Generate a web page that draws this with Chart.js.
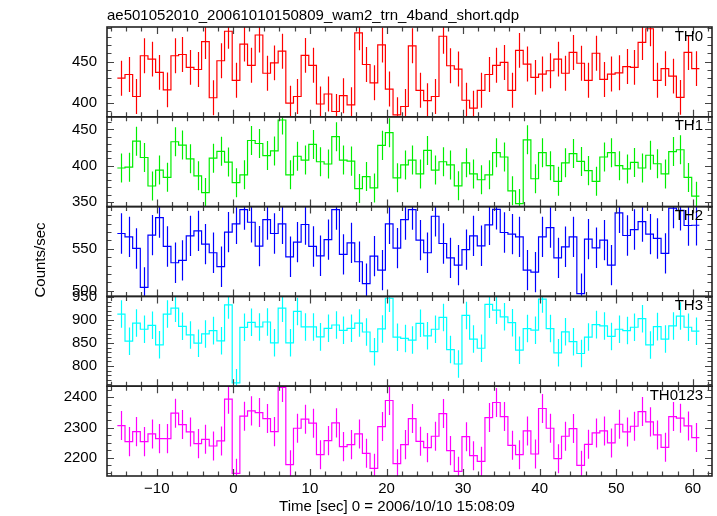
<!DOCTYPE html>
<html>
<head>
<meta charset="utf-8">
<script src="https://cdn.jsdelivr.net/npm/chart.js@4.4.1/dist/chart.umd.min.js"></script>
<style>
  html, body { margin: 0; padding: 0; background: #ffffff; }
  #wrap { width: 717px; height: 516px; }
</style>
</head>
<body>
<div id="wrap"><canvas id="grafico" width="717" height="516"></canvas></div>
<script>
// Bin centres (sec since 2006/10/10 15:08:09), one-second bins
const timeSec = [-14.65,-13.65,-12.65,-11.65,-10.65,-9.65,-8.65,-7.65,-6.65,-5.65,-4.65,-3.65,-2.65,-1.65,-0.65,
  0.35,1.35,2.35,3.35,4.35,5.35,6.35,7.35,8.35,9.35,10.35,11.35,12.35,13.35,14.35,15.35,16.35,17.35,18.35,19.35,20.35,
  21.35,22.35,23.35,24.35,25.35,26.35,27.35,28.35,29.35,30.35,31.35,32.35,33.35,34.35,35.35,36.35,37.35,38.35,39.35,40.35,
  41.35,42.35,43.35,44.35,45.35,46.35,47.35,48.35,49.35,50.35,51.35,52.35,53.35,54.35,55.35,56.35,57.35,58.35,59.35,60.35];

// Count rates (counts/sec)
const th0 = [430,434.5,408,457,453,437,416,457,458.5,443,440.5,474,406.5,451,486.5,
  427.5,471,445.5,482,436,448.5,462.5,400,408,457.5,445.5,399,411,390,409,398,
  484.5,446.5,424.5,470,417,386,396,469,415.5,403,408,480.5,445,441,403.5,394,415.5,434.5,445.5,449,415.5,463.5,
  447,431,435,439,453,436,461,448,427.5,460,428.5,435,436.5,444,443,473,489.5,427.5,441.5,432.5,407,461,441.5];
const th1 = [396.8,398,433.8,411.3,372,394,384,433,428.4,409.5,386,363,410.4,419.8,405,
  376.6,387.4,434.7,430.6,414,420.3,463,387.4,413,407.7,429.3,405.4,402.3,440,407.7,406.3,368.5,385,369.4,428,445.5,383.3,
  401,407.7,388.7,421,394,405.4,401,372.3,404,388.7,380.6,387.4,418,412,365.3,347.7,435.6,382,
  418,400,378.4,404,416.7,405.9,393.2,378.4,412,418,400,395.5,404.5,396.8,414.4,402.7,388.7,419.4,422,383.8,358];
const th2 = [568.2,564.2,550.4,504.2,566.2,587.2,552.8,533.4,536.2,565.4,571.3,555.5,545.3,528.7,569.8,
  579.6,596.6,581.6,553.2,584.8,568.2,579.6,540.5,557.9,578.9,552.8,541.7,561,596.6,543.3,557.1,534.6,508.5,541.3,524.7,579.6,550.8,
  584.8,596.6,560.3,545.3,588.7,556.3,539.3,530.6,549,565.4,553.6,578.5,597,569.4,567.4,564.2,524.7,522.3,
  564.2,575.3,539.3,552.4,564.2,496.6,561.5,551.2,560.3,530.6,592.7,565.8,572.9,582.4,567.4,562.3,544.5,598.5,595.8,577.7,578];
const th3 = [913,854,893.5,880,888.5,846,913,926,886.3,867.6,849.6,869.8,877,854.7,933,
  763.3,884.2,895,885,895.7,850.4,926,850.4,918.7,885,885,863.3,882,889.2,877.7,882,893.5,874,831,880.6,947.5,862.6,
  860,856.4,892.9,865.7,880,905.7,835.7,804.3,910,858.6,838.6,934.3,921.4,907,894.3,834.3,881.4,877.9,
  945.7,881.4,828.6,874.3,852.9,827.1,862.9,890,887.1,864.3,880,877.1,884.3,902.9,845.7,885.7,858.6,887.1,908.6,884.3,875.7];
const th0123 = [2306.6,2253.6,2286.7,2253.6,2279,2263.5,2263.5,2347.5,2310,2285.6,2247,2261.3,2239.2,2255.8,2394,
  2148.6,2337.6,2355.2,2349.7,2329.8,2286.7,2432.6,2177.3,2297.8,2327.6,2314.4,2210.5,2256.9,2315.5,2237,2243.6,2279,2215,2165.2,2303.3,2389.5,2180.7,
  2243.6,2329.8,2254.7,2233.7,2271.3,2346.4,2223.8,2155.2,2270,2207.2,2188.4,2333.1,2382.9,2336.5,2241.4,2210.5,2289,2212.7,
  2363,2297.8,2197.2,2271.3,2296.7,2175.1,2244.8,2282.3,2289,2249.2,2311,2285.6,2304.4,2353,2318.8,2275.7,2234.8,2336.5,2330.9,2305.5,2266.9];

// Half length of the error bars per band (counts/sec)
const errTH0 = 21, errTH1 = 20, errTH2 = 24, errTH3 = 30, errTH0123 = 48;

// Tick labels
const xTicks = [-10, 0, 10, 20, 30, 40, 50, 60];
const ticksTH0 = [400, 450];
const ticksTH1 = [350, 400, 450];
const ticksTH2 = [500, 550];
const ticksTH3 = [800, 850, 900, 950];
const ticksTH0123 = [2200, 2300, 2400];

const titulo = 'ae501052010_20061010150809_wam2_trn_4band_short.qdp';
const tituloX = 'Time [sec] 0 = 2006/10/10 15:08:09';
const tituloY = 'Counts/sec';

const FONTE = '"Liberation Sans", Arial, Helvetica, sans-serif';
const binHalf = 0.5;

// painéis de cima para baixo
const paineis = [
  { id: 'yTH0', nome: 'TH0', valores: th0, erro: errTH0, cor: '#ff0000', min: 383.6, max: 491.6, ticks: ticksTH0, menor: 10 },
  { id: 'yTH1', nome: 'TH1', valores: th1, erro: errTH1, cor: '#00ee00', min: 343.6, max: 467.4, ticks: ticksTH1, menor: 10 },
  { id: 'yTH2', nome: 'TH2', valores: th2, erro: errTH2, cor: '#0000ff', min: 493.4, max: 600.2, ticks: ticksTH2, menor: 10 },
  { id: 'yTH3', nome: 'TH3', valores: th3, erro: errTH3, cor: '#00ffff', min: 755.9, max: 951.5, ticks: ticksTH3, menor: 10 },
  { id: 'yTH0123', nome: 'TH0123', valores: th0123, erro: errTH0123, cor: '#ff00ff', min: 2140, max: 2436.7, ticks: ticksTH0123, menor: 25 }
];

function pontosHistograma(valores) {
  const pts = [];
  valores.forEach((v, i) => {
    pts.push({ x: timeSec[i] - binHalf, y: v });
    pts.push({ x: timeSec[i] + binHalf, y: v });
  });
  return pts;
}

function valoresTick(min, max, passo) {
  const out = [];
  for (let v = Math.ceil(min / passo) * passo; v <= max + 1e-9; v += passo) out.push(v);
  return out;
}

const scales = {
  x: {
    type: 'linear',
    min: -16.5,
    max: 62.5,
    grid: { display: false, drawTicks: false },
    border: { display: false },
    afterBuildTicks: (s) => { s.ticks = xTicks.map(v => ({ value: v })); },
    afterFit: (s) => { s.height = 40; },
    ticks: {
      padding: 4,
      color: '#000',
      font: { family: FONTE, size: 15 },
      maxRotation: 0,
      autoSkip: false,
      callback: (v) => String(v).replace('-', '\u2212')
    }
  }
};

// Chart.js empilha o primeiro eixo em baixo: definir de baixo para cima
paineis.slice().reverse().forEach(p => {
  scales[p.id] = {
    type: 'linear',
    position: 'left',
    stack: 'bandas',
    stackWeight: 1,
    min: p.min,
    max: p.max,
    grid: { display: false, drawTicks: false },
    border: { display: false },
    afterBuildTicks: (s) => { s.ticks = p.ticks.map(v => ({ value: v })); },
    afterFit: (s) => { s.width = 107; },
    ticks: {
      padding: 10,
      color: '#000',
      font: { family: FONTE, size: 15 },
      autoSkip: false,
      callback: (v) => String(v)
    }
  };
});

const pluginQdp = {
  id: 'qdp',
  afterDatasetsDraw(chart) {
    const ctx = chart.ctx;
    const xs = chart.scales.x;
    const area = chart.chartArea;
    // barras de erro
    paineis.forEach(p => {
      const ys = chart.scales[p.id];
      ctx.save();
      ctx.beginPath();
      ctx.rect(area.left, ys.top, area.right - area.left, ys.bottom - ys.top);
      ctx.clip();
      ctx.strokeStyle = p.cor;
      ctx.lineWidth = 1.2;
      ctx.beginPath();
      p.valores.forEach((v, i) => {
        const px = Math.round(xs.getPixelForValue(timeSec[i])) + 0.5;
        ctx.moveTo(px, ys.getPixelForValue(v - p.erro));
        ctx.lineTo(px, ys.getPixelForValue(v + p.erro));
      });
      ctx.stroke();
      ctx.restore();
    });
  },
  afterDraw(chart) {
    const ctx = chart.ctx;
    const xs = chart.scales.x;
    const area = chart.chartArea;
    ctx.save();
    paineis.forEach(p => {
      const ys = chart.scales[p.id];
      const top = ys.top, bottom = ys.bottom;
      // ticks do eixo X (topo e base de cada painel, para dentro)
      ctx.strokeStyle = '#444';
      ctx.lineWidth = 1.2;
      ctx.beginPath();
      valoresTick(xs.min, xs.max, 2).forEach(v => {
        const px = Math.round(xs.getPixelForValue(v)) + 0.5;
        const len = (Math.abs(v % 10) < 1e-9) ? 7 : 4.5;
        ctx.moveTo(px, top); ctx.lineTo(px, top + len);
        ctx.moveTo(px, bottom); ctx.lineTo(px, bottom - len);
      });
      // ticks do eixo Y (esquerda e direita)
      valoresTick(p.min, p.max, p.menor).forEach(v => {
        const py = Math.round(ys.getPixelForValue(v)) + 0.5;
        const len = p.ticks.includes(v) ? 7 : 4.5;
        ctx.moveTo(area.left, py); ctx.lineTo(area.left + len, py);
        ctx.moveTo(area.right, py); ctx.lineTo(area.right - len, py);
      });
      ctx.stroke();
      // moldura
      ctx.strokeStyle = '#222';
      ctx.lineWidth = 1.6;
      ctx.strokeRect(area.left, top, area.right - area.left, bottom - top);
      // nome da banda
      ctx.fillStyle = '#000';
      ctx.font = '15px ' + FONTE;
      ctx.textAlign = 'right';
      ctx.textBaseline = 'top';
      ctx.fillText(p.nome, area.right - 9, top + 2);
    });
    // títulos dos eixos
    ctx.fillStyle = '#000';
    ctx.font = '15px ' + FONTE;
    ctx.textAlign = 'center';
    ctx.textBaseline = 'middle';
    ctx.fillText(tituloX, 397, 507);
    ctx.translate(41, 260);
    ctx.rotate(-Math.PI / 2);
    ctx.fillText(tituloY, 0, 0);
    ctx.restore();
  }
};

const ctx = document.getElementById('grafico').getContext('2d');
const chartInstance = new Chart(ctx, {
  type: 'line',
  data: {
    datasets: paineis.map(p => ({
      label: p.nome,
      data: pontosHistograma(p.valores),
      yAxisID: p.id,
      borderColor: p.cor,
      borderWidth: 1.2,
      pointRadius: 0,
      fill: false,
      tension: 0
    }))
  },
  options: {
    responsive: false,
    animation: false,
    devicePixelRatio: 1,
    layout: { padding: { top: 0, right: 5, bottom: 0, left: 0 } },
    scales: scales,
    plugins: {
      legend: { display: false },
      tooltip: { enabled: false },
      title: {
        display: true,
        text: titulo,
        align: 'start',
        fullSize: false,
        color: '#000',
        font: { family: FONTE, size: 15, weight: 'normal' },
        padding: { top: 7, bottom: 2 }
      }
    }
  },
  plugins: [pluginQdp]
});
</script>
</body>
</html>
